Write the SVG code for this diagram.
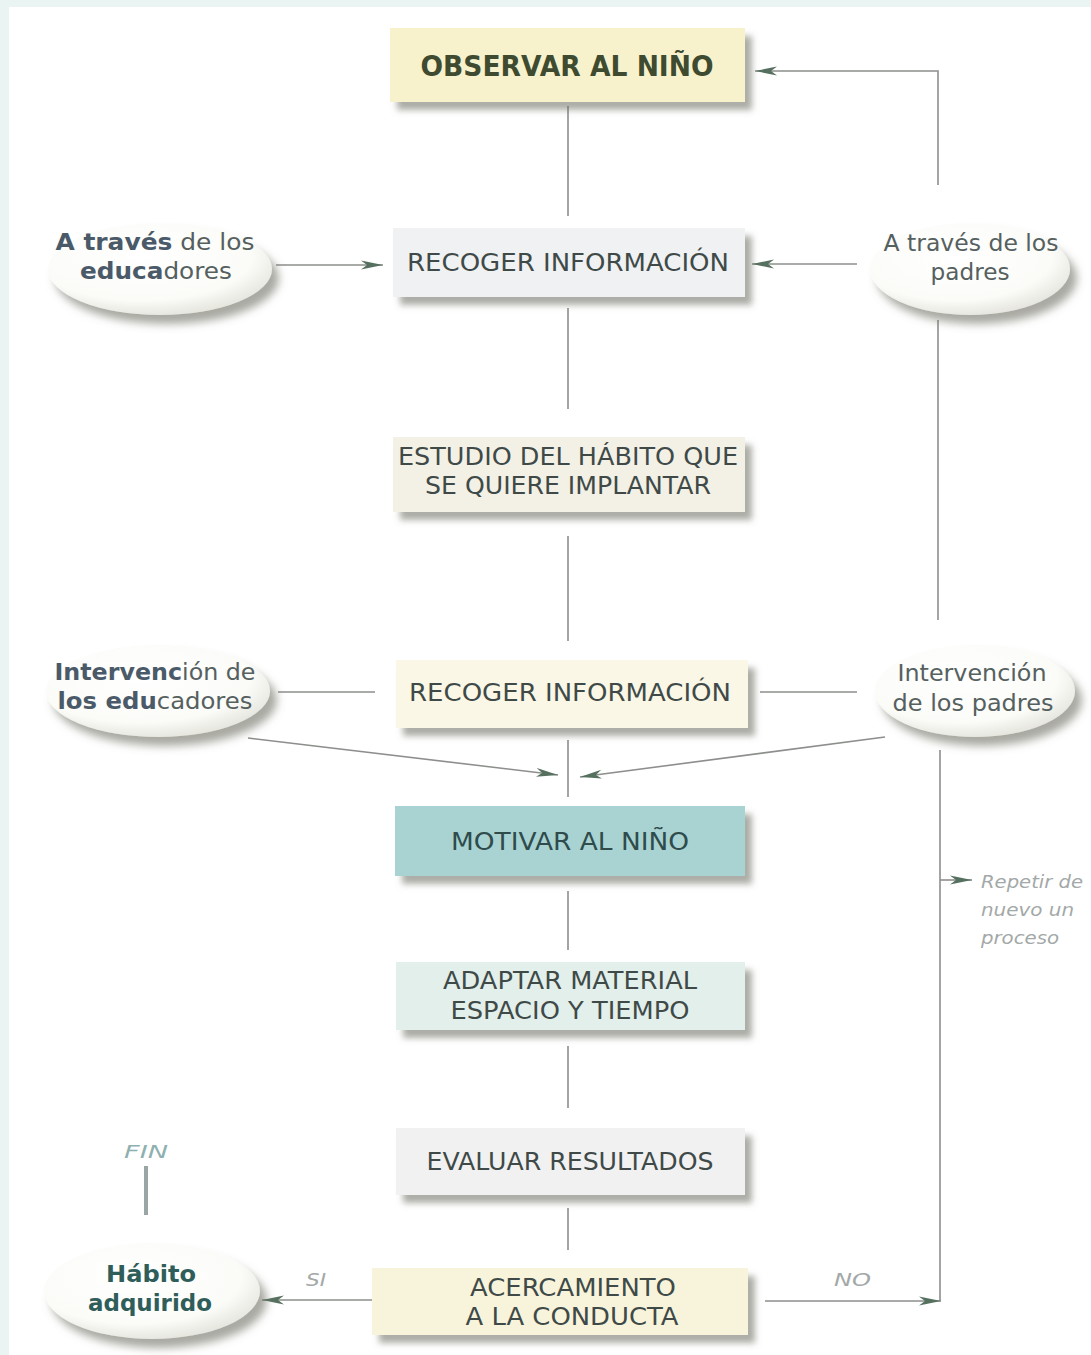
<svg xmlns="http://www.w3.org/2000/svg" width="1091" height="1355" viewBox="0 0 1091 1355">
<defs>
<style>
.box{stroke:none;filter:url(#sh);}
.bt{font-family:"DejaVu Sans","Open Sans",sans-serif;font-size:24px;fill:#3f4a48;text-anchor:middle;}
.el{fill:url(#eg);filter:url(#esh);}
.et{font-family:"DejaVu Sans","Open Sans",sans-serif;font-size:23px;fill:#55605f;text-anchor:middle;}
.b{font-weight:bold;fill:#4a5a68;}
.ln{stroke:#8c8f8c;stroke-width:1.6;fill:none;}
.it{font-family:"DejaVu Sans","Open Sans",sans-serif;font-style:italic;font-size:18px;fill:#a3a8a8;}
</style>
<filter id="sh" x="-10%" y="-20%" width="130%" height="160%">
<feDropShadow dx="7" dy="8" stdDeviation="3" flood-color="#6b6b60" flood-opacity="0.55"/>
</filter>
<filter id="esh" x="-20%" y="-30%" width="150%" height="170%">
<feDropShadow dx="7" dy="9" stdDeviation="4" flood-color="#6f6f65" flood-opacity="0.6"/>
</filter>
<radialGradient id="eg" cx="0.42" cy="0.35" r="0.7">
<stop offset="0" stop-color="#ffffff"/>
<stop offset="0.7" stop-color="#fbfbf8"/>
<stop offset="1" stop-color="#e2e2da"/>
</radialGradient>
<marker id="ah" viewBox="0 0 22 10" refX="22" refY="5" markerWidth="22" markerHeight="10" markerUnits="userSpaceOnUse" orient="auto">
<path d="M0,0.5 L22,5 L0,9.5 L6,5 Z" fill="#56705f"/>
</marker>
</defs>
<rect width="1091" height="1355" fill="#eaf4f2"/>
<rect x="9" y="7" width="1082" height="1348" fill="#ffffff"/>

<g id="connectors">
<line class="ln" x1="568" y1="106" x2="568" y2="216"/>
<line class="ln" x1="568" y1="308" x2="568" y2="409"/>
<line class="ln" x1="568" y1="536" x2="568" y2="641"/>
<line class="ln" x1="568" y1="740" x2="568" y2="797"/>
<line class="ln" x1="568" y1="891" x2="568" y2="950"/>
<line class="ln" x1="568" y1="1046" x2="568" y2="1108"/>
<line class="ln" x1="568" y1="1208" x2="568" y2="1250"/>
<polyline class="ln" points="938,185 938,71 755,71" marker-end="url(#ah)"/>
<line class="ln" x1="857" y1="264" x2="752" y2="264" marker-end="url(#ah)"/>
<line class="ln" x1="276" y1="265" x2="383" y2="265" marker-end="url(#ah)"/>
<line class="ln" x1="938" y1="320" x2="938" y2="620"/>
<line class="ln" x1="278" y1="692" x2="375" y2="692"/>
<line class="ln" x1="760" y1="692" x2="857" y2="692"/>
<line class="ln" x1="248" y1="738" x2="558" y2="775" marker-end="url(#ah)"/>
<line class="ln" x1="885" y1="737" x2="580" y2="777" marker-end="url(#ah)"/>
<line class="ln" x1="940" y1="750" x2="940" y2="1301"/>
<line class="ln" x1="765" y1="1301" x2="941" y2="1301" marker-end="url(#ah)"/>
<line class="ln" x1="940" y1="880" x2="972" y2="880" marker-end="url(#ah)"/>
<line class="ln" x1="373" y1="1300" x2="262" y2="1300" marker-end="url(#ah)"/>
<line x1="146" y1="1166" x2="146" y2="1215" stroke="#9aa6a6" stroke-width="4"/>
</g>

<g id="n1"><rect class="box" x="390" y="28" width="355" height="74" fill="#f7f2cc"/>
<text class="bt" x="567" y="76" style="font-weight:bold;font-size:28px;fill:#3e4b30" textLength="293" lengthAdjust="spacingAndGlyphs">OBSERVAR AL NIÑO</text></g>

<g id="n2"><rect class="box" x="393" y="228" width="352" height="69" fill="#eff1f3"/>
<text class="bt" x="568" y="271" textLength="322" lengthAdjust="spacingAndGlyphs">RECOGER INFORMACIÓN</text></g>

<g id="n3"><rect class="box" x="393" y="437" width="352" height="75" fill="#f3f1e6"/>
<text class="bt" x="568" y="465" textLength="340" lengthAdjust="spacingAndGlyphs">ESTUDIO DEL HÁBITO QUE</text>
<text class="bt" x="568" y="494" textLength="286" lengthAdjust="spacingAndGlyphs">SE QUIERE IMPLANTAR</text></g>

<g id="n4"><rect class="box" x="396" y="660" width="352" height="68" fill="#faf7e6"/>
<text class="bt" x="570" y="701" textLength="322" lengthAdjust="spacingAndGlyphs">RECOGER INFORMACIÓN</text></g>

<g id="n5"><rect class="box" x="395" y="806" width="350" height="70" fill="#a8d3d2"/>
<text class="bt" x="570" y="850" style="fill:#2f4b4b" textLength="238" lengthAdjust="spacingAndGlyphs">MOTIVAR AL NIÑO</text></g>

<g id="n6"><rect class="box" x="396" y="962" width="349" height="68" fill="#e2efea"/>
<text class="bt" x="570" y="989" textLength="254" lengthAdjust="spacingAndGlyphs">ADAPTAR MATERIAL</text>
<text class="bt" x="570" y="1019" textLength="239" lengthAdjust="spacingAndGlyphs">ESPACIO Y TIEMPO</text></g>

<g id="n7"><rect class="box" x="396" y="1128" width="349" height="67" fill="#f1f1f1"/>
<text class="bt" x="570" y="1170" textLength="287" lengthAdjust="spacingAndGlyphs">EVALUAR RESULTADOS</text></g>

<g id="n8"><rect class="box" x="372" y="1268" width="376" height="67" fill="#f8f4dc"/>
<text class="bt" x="573" y="1296" textLength="206" lengthAdjust="spacingAndGlyphs">ACERCAMIENTO</text>
<text class="bt" x="572" y="1325" textLength="213" lengthAdjust="spacingAndGlyphs">A LA CONDUCTA</text></g>

<g id="e1"><ellipse class="el" cx="160" cy="269" rx="112" ry="46"/>
<text class="et" x="155" y="250" textLength="199" lengthAdjust="spacingAndGlyphs"><tspan class="b">A través</tspan> de los</text>
<text class="et" x="156" y="279" textLength="152" lengthAdjust="spacingAndGlyphs"><tspan class="b">educa</tspan>dores</text></g>

<g id="e2"><ellipse class="el" cx="970" cy="269" rx="100" ry="46"/>
<text class="et" x="971" y="251" textLength="175" lengthAdjust="spacingAndGlyphs">A través de los</text>
<text class="et" x="970" y="280" textLength="79" lengthAdjust="spacingAndGlyphs">padres</text></g>

<g id="e3"><ellipse class="el" cx="158" cy="691" rx="112" ry="46"/>
<text class="et" x="155" y="680" textLength="201" lengthAdjust="spacingAndGlyphs"><tspan class="b">Intervenc</tspan>ión de</text>
<text class="et" x="155" y="709" textLength="195" lengthAdjust="spacingAndGlyphs"><tspan class="b">los edu</tspan>cadores</text></g>

<g id="e4"><ellipse class="el" cx="975" cy="691" rx="100" ry="46"/>
<text class="et" x="972" y="681" textLength="149" lengthAdjust="spacingAndGlyphs">Intervención</text>
<text class="et" x="973" y="711" textLength="161" lengthAdjust="spacingAndGlyphs">de los padres</text></g>

<g id="e5"><ellipse class="el" cx="152" cy="1291" rx="108" ry="48"/>
<text class="et" x="151" y="1282" style="font-weight:bold;fill:#2f5e5a" textLength="90" lengthAdjust="spacingAndGlyphs">Hábito</text>
<text class="et" x="150" y="1311" style="font-weight:bold;fill:#2f5e5a" textLength="124" lengthAdjust="spacingAndGlyphs">adquirido</text></g>

<g id="labels">
<text class="it" x="981" y="888" textLength="102" lengthAdjust="spacingAndGlyphs">Repetir de</text>
<text class="it" x="981" y="916" textLength="93" lengthAdjust="spacingAndGlyphs">nuevo un</text>
<text class="it" x="981" y="944" textLength="78" lengthAdjust="spacingAndGlyphs">proceso</text>
<text class="it" x="306" y="1286" textLength="20" lengthAdjust="spacingAndGlyphs">SI</text>
<text class="it" x="834" y="1286" textLength="37" lengthAdjust="spacingAndGlyphs">NO</text>
<text class="it" x="124" y="1158" style="fill:#8fb0b0" textLength="44" lengthAdjust="spacingAndGlyphs">FIN</text>
</g>
</svg>
